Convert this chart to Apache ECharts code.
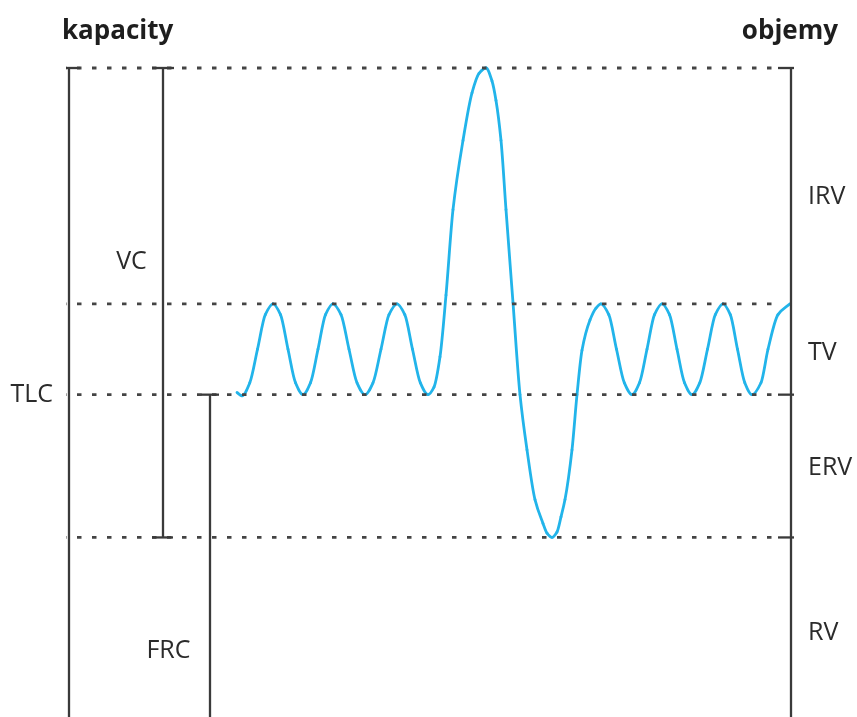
<!DOCTYPE html>
<html>
<head>
<meta charset="utf-8">
<script src="https://cdn.jsdelivr.net/npm/echarts@6/dist/echarts.min.js"></script>
<style>
  html, body { margin: 0; padding: 0; background: #fff; }
  #chart { width: 857px; height: 717px; }
</style>
</head>
<body>
<div id="chart"></div>
<script>
// Lung volume levels (L): TLC, end of tidal inspiration, FRC, RV
const levelNames = ['TLC', 'TV top', 'FRC', 'RV'];
const levelValues = [6.0, 3.82, 2.98, 1.66];

// Spirogram trace (time units, volume L)
const waveTime = [169, 174, 181.8, 189.5, 197.3, 205, 212.5, 220, 227.5, 235, 242.5, 250, 257.5, 265,
  273, 281, 289, 297, 305, 313, 321, 329, 336.8, 344.5, 352.3, 360,
  366, 372, 378, 385, 395, 404, 411, 418, 424, 428, 433, 438, 445, 452, 459, 467, 475, 479, 484,
  489, 493, 497, 504, 509, 514, 522, 528, 533,
  540.8, 548.5, 556.3, 564, 571.5, 579, 586.5, 594, 601.5, 609, 616.5, 624,
  631.8, 639.5, 647.3, 655, 662.3, 669.5, 676.8, 684, 693, 700, 710, 722];
const waveVolume = [3.00, 2.97, 3.09, 3.40, 3.72, 3.82, 3.72, 3.40, 3.09, 2.98, 3.09, 3.40, 3.72, 3.82,
  3.72, 3.40, 3.09, 2.98, 3.09, 3.40, 3.72, 3.82, 3.72, 3.40, 3.09, 2.98,
  3.05, 3.33, 3.90, 4.69, 5.33, 5.77, 5.95, 6.00, 5.88, 5.70, 5.33, 4.69, 3.83, 2.98, 2.47, 2.01, 1.79, 1.70, 1.66,
  1.71, 1.85, 2.01, 2.47, 2.98, 3.39, 3.67, 3.78, 3.82,
  3.72, 3.40, 3.09, 2.98, 3.09, 3.40, 3.72, 3.82, 3.72, 3.40, 3.09, 2.98,
  3.09, 3.40, 3.72, 3.82, 3.72, 3.40, 3.09, 2.98, 3.09, 3.40, 3.72, 3.82];

// Labels
const capacityLabels = ['TLC', 'VC', 'FRC'];
const volumeLabels = ['IRV', 'TV', 'ERV', 'RV'];
const headings = ['kapacity', 'objemy'];

const TLC = levelValues[0], TVT = levelValues[1], FRC = levelValues[2], RV = levelValues[3];
const INK = '#3a3a3a';
const WAVE = '#22b4ea';
const FONT = "'Open Sans', 'Noto Sans', sans-serif";

const series = [];

// dotted level lines
levelValues.forEach(v => {
  series.push({
    type: 'line', silent: true, clip: false, symbol: 'none', animation: false,
    data: [[-6, v], [707, v]],
    lineStyle: { color: '#444', width: 2.8, type: [4.5, 10.5] }
  });
});

// bracket segments
const segs = [
  [[1, 0], [1, TLC]], [[-6, TLC], [12, TLC]],
  [[95, RV], [95, TLC]], [[84, TLC], [106, TLC]], [[84, RV], [105, RV]],
  [[142, 0], [142, FRC]], [[133, FRC], [151, FRC]],
  [[723, 0], [723, TLC]], [[710, TLC], [731, TLC]], [[710, FRC], [731, FRC]], [[710, RV], [731, RV]]
];
segs.forEach(s => {
  series.push({
    type: 'line', silent: true, clip: false, symbol: 'none', animation: false,
    data: s, lineStyle: { color: INK, width: 2.3, cap: 'butt' }
  });
});

// spirogram wave: drawn through the axes as a monotone cubic curve
series.push({
  type: 'custom', clip: false, silent: true, animation: false,
  data: [[waveTime[0], waveVolume[0]]],
  renderItem: function (params, api) {
    const p = waveTime.map((t, i) => api.coord([t, waveVolume[i]]));
    const n = p.length;
    const h = [], d = [];
    for (let i = 0; i < n - 1; i++) {
      h.push(p[i + 1][0] - p[i][0]);
      d.push((p[i + 1][1] - p[i][1]) / h[i]);
    }
    const m = new Array(n);
    m[0] = d[0]; m[n - 1] = d[n - 2];
    for (let i = 1; i < n - 1; i++) {
      if (d[i - 1] * d[i] <= 0) { m[i] = 0; }
      else {
        const w1 = 2 * h[i] + h[i - 1], w2 = h[i] + 2 * h[i - 1];
        m[i] = (w1 + w2) / (w1 / d[i - 1] + w2 / d[i]);
      }
    }
    const children = [];
    for (let i = 0; i < n - 1; i++) {
      const dx = h[i] / 3;
      children.push({
        type: 'bezierCurve',
        shape: {
          x1: p[i][0], y1: p[i][1], x2: p[i + 1][0], y2: p[i + 1][1],
          cpx1: p[i][0] + dx, cpy1: p[i][1] + m[i] * dx,
          cpx2: p[i + 1][0] - dx, cpy2: p[i + 1][1] - m[i + 1] * dx
        },
        style: { stroke: WAVE, lineWidth: 2.8, fill: null, lineCap: 'round' }
      });
    }
    return { type: 'group', children: children };
  }
});

// labels
const lblStyle = { show: true, color: '#2b2b2b', opacity: 1, textBorderWidth: 0, fontSize: 25, fontFamily: FONT, formatter: '{b}' };
series.push({
  type: 'scatter', clip: false, symbolSize: 0, silent: true, animation: false,
  itemStyle: { opacity: 1 },
  data: [
    { name: capacityLabels[0], value: [-15, FRC], label: Object.assign({}, lblStyle, { position: 'left', distance: 0 }) },
    { name: capacityLabels[1], value: [63.5, 4.21], label: Object.assign({}, lblStyle, { position: 'inside' }) },
    { name: capacityLabels[2], value: [100.5, 0.61], label: Object.assign({}, lblStyle, { position: 'inside' }) },
    { name: volumeLabels[0], value: [740, 4.81], label: Object.assign({}, lblStyle, { position: 'right', distance: 0 }) },
    { name: volumeLabels[1], value: [740, 3.37], label: Object.assign({}, lblStyle, { position: 'right', distance: 0 }) },
    { name: volumeLabels[2], value: [740, 2.30], label: Object.assign({}, lblStyle, { position: 'right', distance: 0 }) },
    { name: volumeLabels[3], value: [740, 0.78], label: Object.assign({}, lblStyle, { position: 'right', distance: 0 }) }
  ]
});

const chart = echarts.init(document.getElementById('chart'), null, { renderer: 'canvas' });
chart.setOption({
  backgroundColor: '#fff',
  animation: false,
  title: [
    { text: headings[0], left: 62, top: 19, padding: 0,
      textStyle: { fontSize: 26, fontWeight: 'bold', color: '#1e1e1e', fontFamily: FONT } },
    { text: headings[1], right: 19, top: 19, padding: 0,
      textStyle: { fontSize: 26, fontWeight: 'bold', color: '#1e1e1e', fontFamily: FONT } }
  ],
  grid: { left: 68, right: 65, top: 68, bottom: 0 },
  xAxis: { type: 'value', min: 0, max: 724, show: false, splitLine: { show: false } },
  yAxis: { type: 'value', min: 0, max: 6, show: false, splitLine: { show: false } },
  series: series
});
</script>
</body>
</html>
